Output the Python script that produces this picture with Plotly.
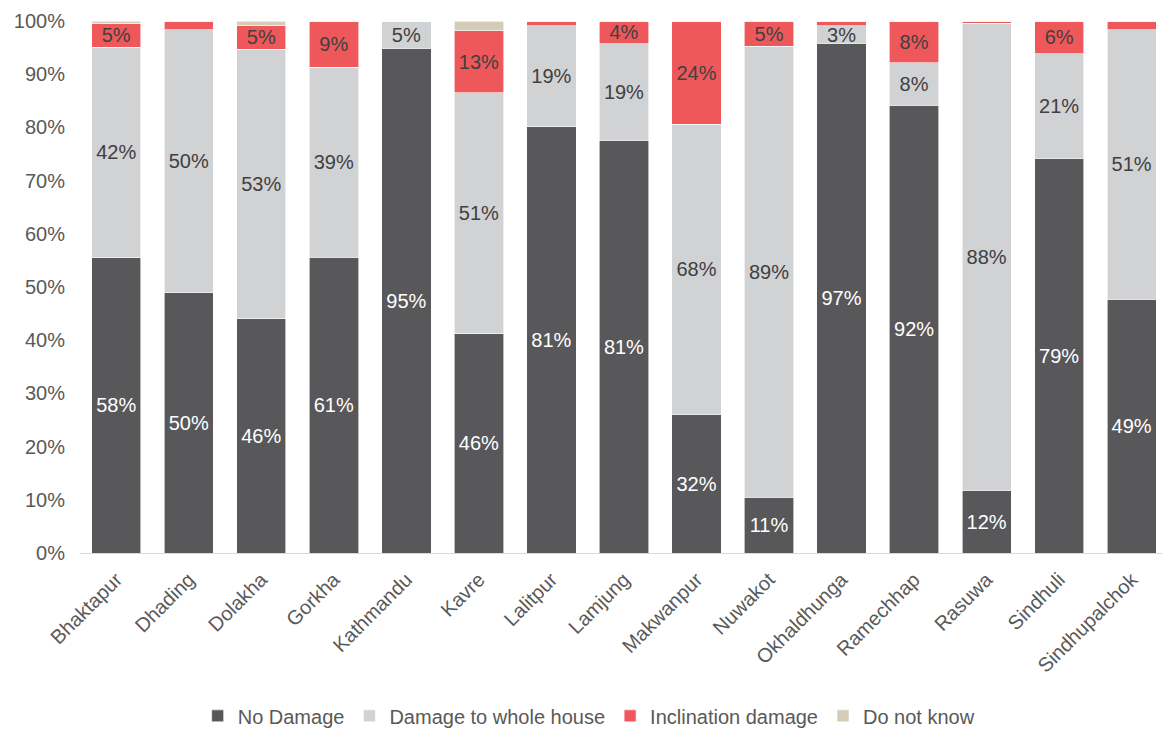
import plotly.graph_objects as go

districts = ["Bhaktapur", "Dhading", "Dolakha", "Gorkha", "Kathmandu", "Kavre", "Lalitpur",
             "Lamjung", "Makwanpur", "Nuwakot", "Okhaldhunga", "Ramechhap", "Rasuwa",
             "Sindhuli", "Sindhupalchok"]

# segment heights (% of households)
no_damage = [55.5, 48.9, 44.0, 55.6, 94.9, 41.2, 80.1, 77.6, 26.1, 10.5, 95.8, 84.2, 11.8, 74.2, 47.7]
whole_house = [39.6, 49.5, 50.7, 35.7, 5.1, 45.3, 19.0, 18.1, 54.5, 84.8, 3.3, 8.0, 87.8, 19.6, 50.7]
inclination = [4.4, 1.6, 4.5, 8.7, 0.0, 11.7, 0.9, 4.3, 19.4, 4.7, 0.9, 7.8, 0.4, 6.2, 1.6]
dont_know = [0.5, 0.0, 0.8, 0.0, 0.0, 1.8, 0.0, 0.0, 0.0, 0.0, 0.0, 0.0, 0.0, 0.0, 0.0]

# data labels as printed on the chart
no_damage_lbl = ["58%", "50%", "46%", "61%", "95%", "46%", "81%", "81%", "32%", "11%", "97%", "92%", "12%", "79%", "49%"]
whole_house_lbl = ["42%", "50%", "53%", "39%", "5%", "51%", "19%", "19%", "68%", "89%", "3%", "8%", "88%", "21%", "51%"]
inclination_lbl = ["5%", "", "5%", "9%", "", "13%", "", "4%", "24%", "5%", "", "8%", "", "6%", ""]
dont_know_lbl = [""] * 15

FONT = "Liberation Sans, Arial"

series = [
    ("No Damage", no_damage, no_damage_lbl, "#58585a", "white"),
    ("Damage to whole house", whole_house, whole_house_lbl, "#d1d2d4", "#404040"),
    ("Inclination damage", inclination, inclination_lbl, "#ef585b", "#404040"),
    ("Do not know", dont_know, dont_know_lbl, "#d4ccb8", "#404040"),
]

fig = go.Figure()
for name, vals, lbls, color, tcolor in series:
    fig.add_trace(go.Bar(
        x=districts, y=vals, name=name,
        text=lbls, textposition="inside", insidetextanchor="middle", textangle=0,
        textfont=dict(color=tcolor, size=20, family=FONT),
        marker=dict(color=color, line=dict(color="white", width=0.6)),
        hoverinfo="skip"
    ))

fig.update_layout(
    barmode="stack",
    bargap=0.32,
    width=1170, height=729,
    margin=dict(l=72, r=10, t=13, b=184),
    plot_bgcolor="white", paper_bgcolor="white",
    font=dict(family=FONT, color="#595959", size=20),
    uniformtext=dict(minsize=20, mode="show"),
    legend=dict(orientation="h", x=0.468, xanchor="center",
                yref="container", y=0.029, yanchor="middle",
                font=dict(size=20), traceorder="normal", itemwidth=30),
    showlegend=True,
)
fig.update_yaxes(range=[0, 100], dtick=10, ticksuffix="%", showgrid=False, zeroline=False,
                 showline=False, tickfont=dict(size=20), automargin=False,
                 ticklabelstandoff=14)
fig.update_xaxes(tickangle=-45, showline=True, linecolor="#d9d9d9", linewidth=1,
                 tickfont=dict(size=20), automargin=False, ticklabelstandoff=6)

fig.write_html("out.html")
